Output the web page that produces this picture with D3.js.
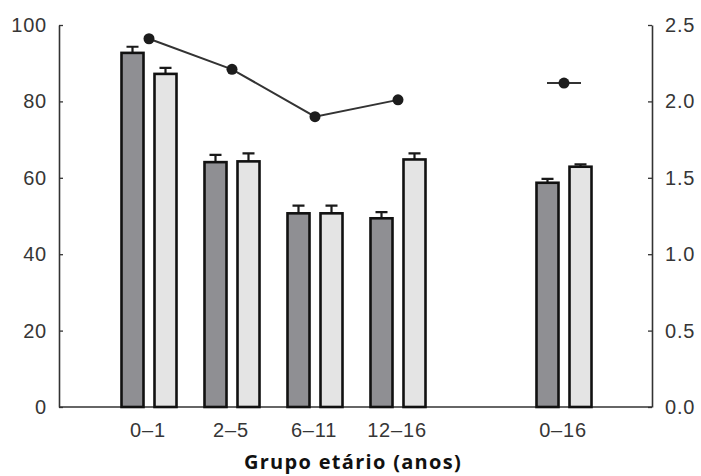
<!DOCTYPE html>
<html>
<head>
<meta charset="utf-8">
<script src="https://cdn.jsdelivr.net/npm/d3@7"></script>
<style>
  body { margin: 0; background: #fff; }
  svg { display: block; }
  .tick text { font-family: "Liberation Sans", Arial, sans-serif; fill: #363636; letter-spacing: 0.8px; }
</style>
</head>
<body>
<svg id="chart" width="701" height="476"></svg>
<script>
// slots along the x axis; the blank one leaves the gap before 0–16
const SLOTS = ['0–1', '2–5', '6–11', '12–16', '', '0–16'];
const GROUPS = ['0–1', '2–5', '6–11', '12–16', '0–16'];

const darkVals  = [92.7, 64.1, 50.7, 49.4, 58.7];
const darkErr   = [1.6, 1.9, 2.0, 1.6, 1.0];
const lightVals = [87.2, 64.3, 50.7, 64.8, 62.9];
const lightErr  = [1.6, 2.1, 2.0, 1.6, 0.6];

// right-axis series: connected line for the age bands, lone point for 0–16
const lineGroups = ['0–1', '2–5', '6–11', '12–16'];
const lineVals   = [2.41, 2.21, 1.90, 2.01];
const totalGroup = '0–16';
const totalVal   = 2.12;

const leftTicks  = [0, 20, 40, 60, 80, 100];
const rightTicks = [0, 0.5, 1.0, 1.5, 2.0, 2.5];
const xTitle = 'Grupo etário (anos)';

const X0 = 59, X1 = 652, Y0 = 407, Y1 = 25;
const BAR_W = 22, BAR_OFF = 16.5, CAP = 6;

const svg = d3.select('#chart');

const x = d3.scaleBand().domain(SLOTS).range([107.5, 605.5]).padding(0);
const cx = g => x(g) + x.bandwidth() / 2;
const yL = d3.scaleLinear().domain([0, 100]).range([Y0, Y1]);
const yR = d3.scaleLinear().domain([0, 2.5]).range([Y0, Y1]);

// axes
const axL = svg.append('g').attr('transform', `translate(${X0},0)`)
  .call(d3.axisLeft(yL).tickValues(leftTicks).tickSize(-4).tickPadding(12).tickSizeOuter(0));
const axR = svg.append('g').attr('transform', `translate(${X1},0)`)
  .call(d3.axisRight(yR).tickValues(rightTicks).tickFormat(d3.format('.1f')).tickSize(-4).tickPadding(13).tickSizeOuter(0));
for (const a of [axL, axR]) {
  a.selectAll('.domain').attr('stroke', '#333').attr('stroke-width', 1.6);
  a.selectAll('line').attr('stroke', '#333').attr('stroke-width', 1.3);
  a.selectAll('text').attr('font-size', 20);
}

// baseline
svg.append('line')
  .attr('x1', X0).attr('x2', X1).attr('y1', Y0).attr('y2', Y0)
  .attr('stroke', '#333').attr('stroke-width', 1.6);

// bars + error bars
const series = [
  { vals: darkVals,  err: darkErr,  off: -BAR_OFF, fill: '#8f8f93' },
  { vals: lightVals, err: lightErr, off:  BAR_OFF, fill: '#e4e4e4' },
];
for (const s of series) {
  const data = GROUPS.map((g, i) => ({ g, v: s.vals[i], e: s.err[i] }));
  const bg = svg.append('g');
  bg.selectAll('path.err').data(data).join('path')
    .attr('d', d => {
      const xc = cx(d.g) + s.off;
      return `M${xc},${yL(d.v)}V${yL(d.v + d.e)}M${xc - CAP},${yL(d.v + d.e)}H${xc + CAP}`;
    })
    .attr('stroke', '#1a1a1a').attr('stroke-width', 2.2).attr('fill', 'none');
  bg.selectAll('rect').data(data).join('rect')
    .attr('x', d => cx(d.g) + s.off - BAR_W / 2)
    .attr('y', d => yL(d.v))
    .attr('width', BAR_W)
    .attr('height', d => Y0 - yL(d.v))
    .attr('fill', s.fill)
    .attr('stroke', '#111').attr('stroke-width', 2.6);
}

// line series
const lineData = lineGroups.map((g, i) => ({ g, v: lineVals[i] }));
svg.append('path').datum(lineData)
  .attr('d', d3.line().x(d => cx(d.g)).y(d => yR(d.v)))
  .attr('fill', 'none').attr('stroke', '#333').attr('stroke-width', 2);
svg.append('line')
  .attr('x1', cx(totalGroup) - 17).attr('x2', cx(totalGroup) + 17)
  .attr('y1', yR(totalVal)).attr('y2', yR(totalVal))
  .attr('stroke', '#333').attr('stroke-width', 2);
svg.selectAll('circle.pt')
  .data([...lineData, { g: totalGroup, v: totalVal }]).join('circle')
  .attr('cx', d => cx(d.g)).attr('cy', d => yR(d.v)).attr('r', 5.5)
  .attr('fill', '#1c1c1c');

// category labels
svg.selectAll('text.cat').data(GROUPS).join('text')
  .attr('x', d => cx(d) - 1).attr('y', 437)
  .attr('text-anchor', 'middle')
  .attr('font-family', '"Liberation Sans", Arial, sans-serif')
  .attr('font-size', 20).attr('letter-spacing', 0.8).attr('fill', '#363636')
  .text(d => d);

svg.append('text')
  .attr('x', 353).attr('y', 469)
  .attr('text-anchor', 'middle')
  .attr('font-family', '"Open Sans", sans-serif')
  .attr('font-weight', 700).attr('font-size', 20).attr('letter-spacing', 1.3).attr('fill', '#111')
  .text(xTitle);
</script>
</body>
</html>
